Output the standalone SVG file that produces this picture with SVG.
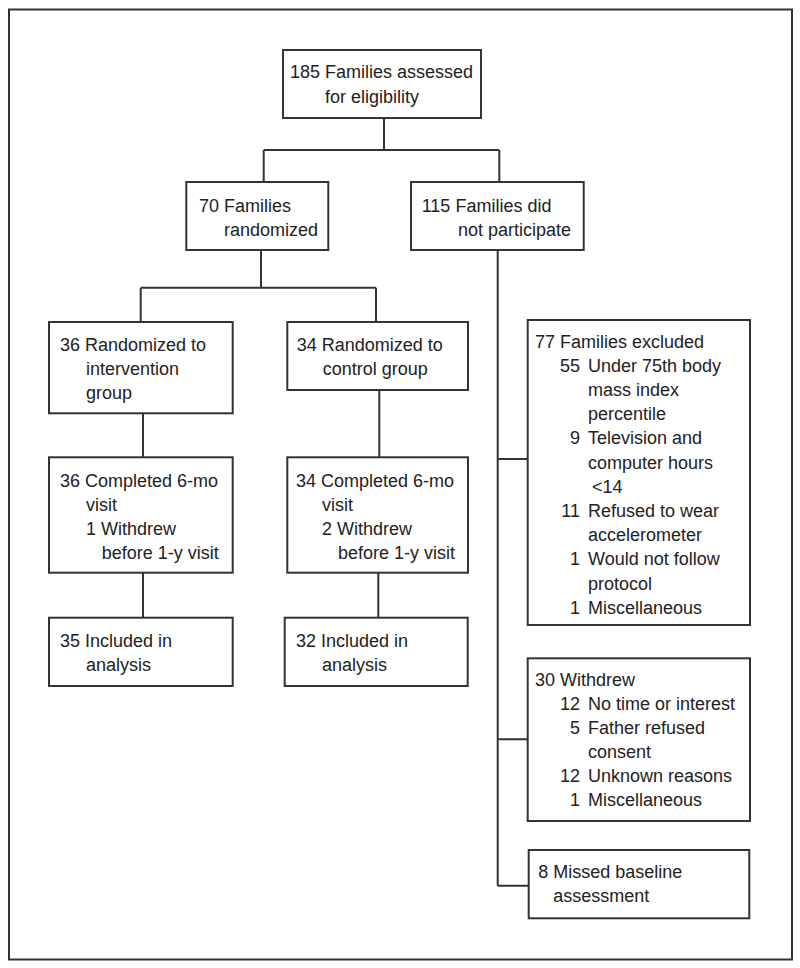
<svg xmlns="http://www.w3.org/2000/svg" width="800" height="968" viewBox="0 0 800 968">
<style>
.box{fill:#fff;stroke:#333;stroke-width:2}
.frame{fill:#fff;stroke:#333;stroke-width:2}
.con{fill:none;stroke:#333;stroke-width:2}
text{font-family:"Liberation Sans",Arial,sans-serif;font-size:18px;fill:#222}
.n{text-anchor:end}
</style>
<rect class="frame" x="9" y="9.5" width="783" height="950"/>
<g id="connectors">
<path class="con" d="M384,118V150M263.7,150H499.3M263.7,150V182M499.3,150V182"/>
<path class="con" d="M261,250V287.7M140.7,287.7H376M140.7,287.7V322M376,287.7V322"/>
<path class="con" d="M143,413.3V457.3M379.3,390V457.3"/>
<path class="con" d="M143,572.7V617.7M378.3,572.7V617.7"/>
<path class="con" d="M497.7,250V885.7M497.7,459H527.7M497.7,739.3H527.7M497.7,885.7H528.7"/>
</g>
<g id="assessed">
<rect class="box" x="283" y="50" width="198" height="68"/>
<text x="290" y="78.3">185 Families assessed</text>
<text x="325" y="103">for eligibility</text>
</g>
<g id="randomized">
<rect class="box" x="186.3" y="182" width="142" height="68"/>
<text x="199" y="211.7">70 Families</text>
<text x="224" y="235.5">randomized</text>
</g>
<g id="notparticipate">
<rect class="box" x="411" y="182" width="172.7" height="68"/>
<text x="421.7" y="211.7">115 Families did</text>
<text x="458" y="235.5">not participate</text>
</g>
<g id="intervention">
<rect class="box" x="49" y="322" width="183.7" height="91.3"/>
<text x="60" y="350.7">36 Randomized to</text>
<text x="86" y="374.7">intervention</text>
<text x="86" y="398.7">group</text>
</g>
<g id="control">
<rect class="box" x="287.3" y="322" width="180.7" height="68"/>
<text x="296.7" y="350.7">34 Randomized to</text>
<text x="322.7" y="374.7">control group</text>
</g>
<g id="completed-int">
<rect class="box" x="49" y="457.3" width="183.7" height="115.4"/>
<text x="60" y="486.7">36 Completed 6-mo</text>
<text x="86" y="510.7">visit</text>
<text x="86" y="534.7">1 Withdrew</text>
<text x="101.7" y="558.7">before 1-y visit</text>
</g>
<g id="completed-ctl">
<rect class="box" x="287.3" y="457.3" width="180.7" height="115.4"/>
<text x="296" y="486.7">34 Completed 6-mo</text>
<text x="322" y="510.7">visit</text>
<text x="322" y="534.7">2 Withdrew</text>
<text x="338" y="558.7">before 1-y visit</text>
</g>
<g id="included-int">
<rect class="box" x="49" y="617.7" width="183.7" height="68.3"/>
<text x="60" y="646.7">35 Included in</text>
<text x="86" y="670.7">analysis</text>
</g>
<g id="included-ctl">
<rect class="box" x="284.7" y="617.7" width="183" height="68.3"/>
<text x="296" y="646.7">32 Included in</text>
<text x="322" y="670.7">analysis</text>
</g>
<g id="excluded">
<rect class="box" x="527.7" y="320" width="222.3" height="305"/>
<text x="535" y="347.5">77 Families excluded</text>
<text class="n" x="580" y="371.7">55</text><text x="588" y="371.7">Under 75th body</text>
<text x="588" y="396">mass index</text>
<text x="588" y="420">percentile</text>
<text class="n" x="580" y="444.3">9</text><text x="588" y="444.3">Television and</text>
<text x="588" y="468.5">computer hours</text>
<text x="592" y="492.7">&lt;14</text>
<text class="n" x="580" y="517">11</text><text x="588" y="517">Refused to wear</text>
<text x="588" y="541">accelerometer</text>
<text class="n" x="580" y="565.3">1</text><text x="588" y="565.3">Would not follow</text>
<text x="588" y="589.5">protocol</text>
<text class="n" x="580" y="613.5">1</text><text x="588" y="613.5">Miscellaneous</text>
</g>
<g id="withdrew">
<rect class="box" x="527.7" y="658.3" width="222.3" height="162.7"/>
<text x="535" y="686.3">30 Withdrew</text>
<text class="n" x="580" y="710">12</text><text x="588" y="710">No time or interest</text>
<text class="n" x="580" y="734">5</text><text x="588" y="734">Father refused</text>
<text x="588" y="758">consent</text>
<text class="n" x="580" y="782">12</text><text x="588" y="782">Unknown reasons</text>
<text class="n" x="580" y="806.3">1</text><text x="588" y="806.3">Miscellaneous</text>
</g>
<g id="missed">
<rect class="box" x="528.7" y="850" width="220.6" height="68.3"/>
<text x="538.3" y="877.7">8 Missed baseline</text>
<text x="553.3" y="901.7">assessment</text>
</g>
</svg>
